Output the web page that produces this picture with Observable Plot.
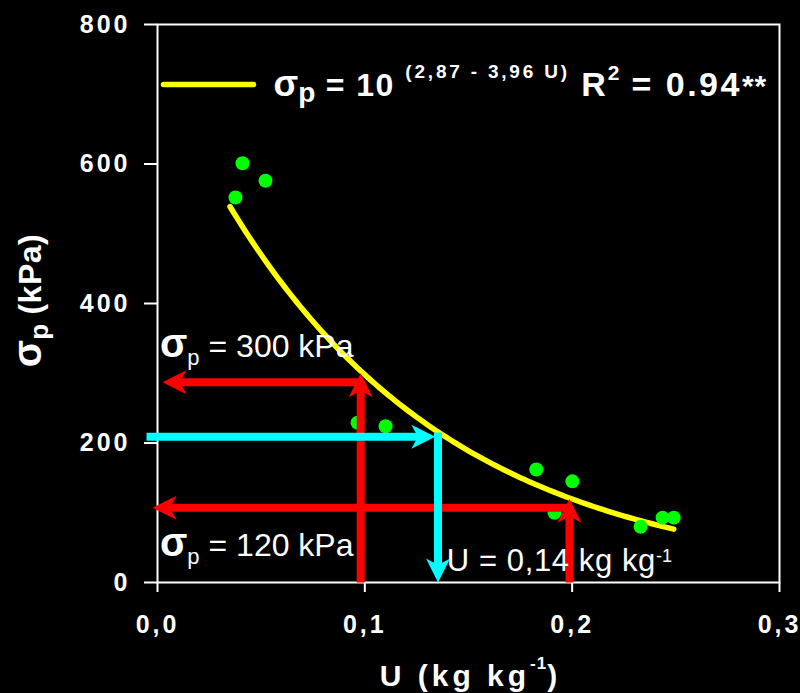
<!DOCTYPE html>
<html>
<head>
<meta charset="utf-8">
<script src="https://cdn.jsdelivr.net/npm/d3@7"></script>
<script src="https://cdn.jsdelivr.net/npm/@observablehq/plot@0.6"></script>
<style>
  html, body { margin: 0; padding: 0; background: #000; }
  text, tspan { white-space: pre; }
</style>
</head>
<body>
<div id="chart"></div>
<script>
// Measured points: soil moisture U (kg kg-1) and preconsolidation pressure (kPa)
const moisture = [0.0376, 0.0410, 0.0521, 0.0965, 0.1100, 0.1827, 0.2001, 0.1915, 0.2330, 0.2436, 0.2490];
const pressure = [552, 601, 576, 229, 224, 162, 145, 100, 80, 93, 93];

const xTicks = [0, 0.1, 0.2, 0.3];
const yTicks = [0, 200, 400, 600, 800];

// Fitted model: sigma_p = 10^(a - b U), over the measured moisture range
const fitA = 2.87;
const fitB = 3.96;
const fitFrom = 0.035;
const fitTo = 0.249;

// Reading arrows, tail (x1, y1) to head (x2, y2)
const arrowX1 = [0.098, 0.098, 0.1987, 0.1987, -0.0053, 0.1353];
const arrowY1 = [0, 287, 0, 107, 209, 215];
const arrowX2 = [0.098, 0.0024, 0.1987, -0.0024, 0.134, 0.1353];
const arrowY2 = [300, 287, 120, 107, 209, 0];
const arrowColor = ["#ff0000", "#ff0000", "#ff0000", "#ff0000", "#00ffff", "#00ffff"];

// Legend swatch and text anchors
const legendSwatchX = [0.0029, 0.0463];
const legendSwatchY = 714;
const legendX = 0.056;
const legendY = 698;

// Annotation anchors (baseline, left edge)
const noteX = [0.0012, 0.0012, 0.1395];
const noteY = [322.6, 38.7, 17.2];

// Rich text: runs of [text, size, weight, baseline shift up, letter spacing]
const runs = new Map();
function rich(parts) {
  const s = parts.map(p => p[0]).join("");
  runs.set(s, parts);
  return s;
}

const legendLabel = rich([
  ["σ", 36, "bold", 0, 0],
  ["p", 28, "bold", -6, 0],
  [" = 10 ", 32, "bold", 0, 1.5],
  ["(2,87 - 3,96 U)", 19, "bold", 18, 2.8],
  [" R", 34, "bold", 0, 2],
  ["2", 21, "bold", 16, 0],
  [" = 0.94", 34, "bold", 0, 2.5],
  ["**", 30, "bold", 0, 1]
]);
const noteLabels = [
  rich([["σ", 40, "bold", 0, 0], ["p", 22, "normal", -8, 0], [" = 300 kPa", 32, "normal", 0, 0]]),
  rich([["σ", 40, "bold", 0, 0], ["p", 22, "normal", -8, 0], [" = 120 kPa", 32, "normal", 0, 0]]),
  rich([["U = 0,14 kg kg", 31, "normal", 0, 0.6], ["-1", 18, "normal", 9, 0]])
];
const yLabel = rich([["σ", 40, "bold", 0, 0], ["p", 26, "bold", -7, 0], [" (kPa)", 32, "bold", 0, 0.5]]);
const xLabel = rich([["U (kg kg", 30, "bold", 0, 4], ["-1", 17, "bold", 17, 1], [")", 30, "bold", 0, 0]]);

// Tables built from the arrays above
const fitU = d3.range(fitFrom, fitTo + 1e-9, 0.002);
const points = moisture.map((u, i) => ({u, p: pressure[i]}));
const arrows = arrowX1.map((x1, i) => {
  const x2 = arrowX2[i], y1 = arrowY1[i], y2 = arrowY2[i];
  const angle = x2 > x1 ? 90 : x2 < x1 ? -90 : y2 > y1 ? 0 : 180;
  return {x1, y1, x2, y2, color: arrowColor[i], angle};
});
const notes = noteLabels.map((text, i) => ({text, x: noteX[i], y: noteY[i]}));

// Filled, notched arrowhead with its tip at the origin, pointing up
const headSymbol = {
  draw(context, size) {
    const r = Math.sqrt(size / Math.PI);
    context.moveTo(0, 0);
    context.lineTo(r, 2 * r);
    context.lineTo(0, 1.45 * r);
    context.lineTo(-r, 2 * r);
    context.closePath();
  }
};

const chart = Plot.plot({
  width: 800,
  height: 693,
  marginLeft: 157,
  marginRight: 21,
  marginTop: 24,
  marginBottom: 111,
  style: {background: "#000", color: "#fff", fontFamily: "'Liberation Sans', Arial, sans-serif"},
  x: {domain: [0, 0.3]},
  y: {domain: [0, 800]},
  color: {type: "identity"},
  marks: [
    Plot.frame({stroke: "#fff", strokeWidth: 2}),
    Plot.axisY({ticks: yTicks, tickSize: 13, tickPadding: 14, fontSize: 25, fontWeight: "bold", strokeWidth: 2, label: null}),
    Plot.axisX({ticks: xTicks, tickFormat: d => d.toFixed(1).replace(".", ","), tickSize: 10, tickPadding: 23, fontSize: 25, fontWeight: "bold", strokeWidth: 2, label: null}),
    Plot.line(fitU, {x: d => d, y: d => 10 ** (fitA - fitB * d), stroke: "#ffff00", strokeWidth: 5.5, strokeLinecap: "round"}),
    Plot.dot(points, {x: "u", y: "p", r: 7, fill: "#00ff00"}),
    Plot.arrow(arrows, {x1: "x1", y1: "y1", x2: "x2", y2: "y2", stroke: "color", strokeWidth: 8, headLength: 0, insetEnd: 12, strokeLinecap: "butt"}),
    Plot.dot(arrows, {x: "x2", y: "y2", r: 12, symbol: headSymbol, fill: "color", rotate: "angle"}),
    Plot.line([{x: legendSwatchX[0], y: legendSwatchY}, {x: legendSwatchX[1], y: legendSwatchY}], {x: "x", y: "y", stroke: "#ffff00", strokeWidth: 5.5, strokeLinecap: "round"}),
    Plot.text([legendLabel], {x: legendX, y: legendY, text: d => d, textAnchor: "start", lineAnchor: "bottom", fill: "#fff", fontSize: 32, fontWeight: "bold"}),
    Plot.text(notes, {x: "x", y: "y", text: "text", textAnchor: "start", lineAnchor: "bottom", fill: "#fff", fontSize: 31}),
    Plot.text([yLabel], {frameAnchor: "left", text: d => d, rotate: -90, dx: -117, dy: -3, textAnchor: "middle", lineAnchor: "bottom", fill: "#fff", fontSize: 32, fontWeight: "bold"}),
    Plot.text([xLabel], {frameAnchor: "bottom", text: d => d, dy: 103, textAnchor: "middle", lineAnchor: "bottom", fill: "#fff", fontSize: 30, fontWeight: "bold"})
  ]
});

// Expand labels into sized, shifted runs (subscripts and superscripts)
d3.select(chart).selectAll("text").each(function () {
  const parts = runs.get(this.textContent);
  if (!parts) return;
  const t = d3.select(this).text(null);
  let prev = 0;
  for (const [s, size, weight, shift, spacing] of parts) {
    t.append("tspan")
      .attr("font-size", size)
      .attr("font-weight", weight)
      .attr("dy", prev - shift)
      .attr("letter-spacing", spacing)
      .text(s);
    prev = shift;
  }
});

// Wider tracking on the tick labels
d3.select(chart)
  .selectAll('g[aria-label="y-axis tick label"] text, g[aria-label="x-axis tick label"] text')
  .attr("letter-spacing", 3);

document.getElementById("chart").append(chart);
</script>
</body>
</html>
